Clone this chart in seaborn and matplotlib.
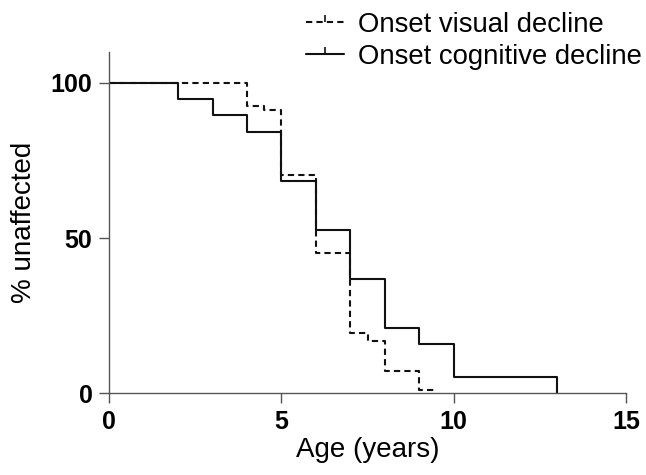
import pandas as pd
import seaborn as sns
import matplotlib.pyplot as plt
from matplotlib.lines import Line2D

# Kaplan-Meier style curves
cog_age = [0, 2, 3, 4, 5, 6, 7, 8, 9, 10, 13]
cog_pct = [100, 94.7, 89.5, 84.2, 68.4, 52.6, 36.8, 21.1, 15.8, 5.3, 0]

vis_age = [0, 4, 4.5, 5, 6, 7, 7.5, 8, 9, 9.5]
vis_pct = [100, 92.6, 91.1, 70.3, 45.3, 19.5, 16.8, 7.1, 1.0, 1.0]

labels = ["Onset visual decline", "Onset cognitive decline"]
x_ticks = [0, 5, 10, 15]
y_ticks = [0, 50, 100]

df_cog = pd.DataFrame({"Age": cog_age, "Pct": cog_pct})
df_vis = pd.DataFrame({"Age": vis_age, "Pct": vis_pct})

sns.set_theme(style="ticks")
plt.rcParams["font.family"] = ["Liberation Sans", "DejaVu Sans"]
plt.rcParams["text.color"] = "black"
plt.rcParams["axes.labelcolor"] = "black"
plt.rcParams["xtick.labelcolor"] = "black"
plt.rcParams["ytick.labelcolor"] = "black"

fig = plt.figure(figsize=(6.46, 4.75), dpi=100)
ax = fig.add_axes([0.169, 0.172, 0.80, 0.719])

sns.lineplot(ax=ax, data=df_vis, x="Age", y="Pct", estimator=None, sort=False,
             drawstyle="steps-post", color="#111111", linewidth=1.5,
             linestyle=(0, (3, 2)))
sns.lineplot(ax=ax, data=df_cog, x="Age", y="Pct", estimator=None, sort=False,
             drawstyle="steps-post", color="#111111", linewidth=1.5)

ax.set_xlim(0, 15)
ax.set_ylim(0, 110)
ax.set_xticks(x_ticks)
ax.set_yticks(y_ticks)
ax.set_xticklabels([str(t) for t in x_ticks], fontsize=18, fontweight="bold")
ax.set_yticklabels([str(t) for t in y_ticks], fontsize=18, fontweight="bold")
ax.set_xlabel("Age (years)", fontsize=20, labelpad=2)
ax.set_ylabel("% unaffected", fontsize=20, labelpad=10)

for side in ["top", "right"]:
    ax.spines[side].set_visible(False)
for side in ["left", "bottom"]:
    ax.spines[side].set_color("#555555")
    ax.spines[side].set_linewidth(1.0)
ax.tick_params(axis="both", direction="out", length=7, width=1.0,
               color="#555555", pad=5)

# legend with the small censor tick in the middle of each handle
handles = [
    Line2D([], [], color="#111111", linewidth=1.5, linestyle=(0, (3, 2)),
           marker=2, markersize=5, markeredgewidth=1.2),
    Line2D([], [], color="#111111", linewidth=1.5,
           marker=2, markersize=5, markeredgewidth=1.2),
]
fig.legend(handles, labels, loc="upper left", bbox_to_anchor=(0.435, 1.027),
           frameon=False, fontsize=19.8, handlelength=1.4, handletextpad=0.5,
           labelspacing=0.22, numpoints=1)

fig.savefig("out.png", dpi=100)
